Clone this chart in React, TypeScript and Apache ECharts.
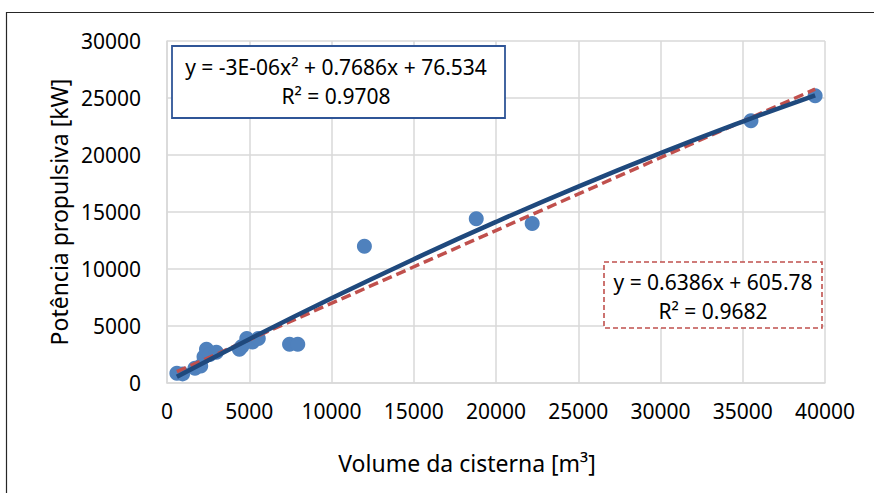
import React, { useEffect, useRef } from "react";
import * as echarts from "echarts";

// Observed points (volume m³, propulsive power kW)
const volume = [600, 950, 1700, 2050, 2250, 2400, 2600, 3000, 4400, 4550, 4850, 5200, 5550, 7450, 7950, 12000, 18800, 22200, 35500, 39400];
const power = [850, 800, 1300, 1500, 2300, 2950, 2500, 2700, 2950, 3200, 3900, 3600, 3900, 3400, 3400, 12000, 14400, 14000, 23000, 25200];

// Polynomial trendline
const polyX = [600, 5000, 10000, 15000, 20000, 25000, 30000, 35000, 39400];
const polyY = [540, 3840, 7430, 10860, 14130, 17230, 20160, 22930, 25240];

// Linear trendline end points
const linX = [600, 39400];
const linY = [990, 25770];

const xTicks = [0, 5000, 10000, 15000, 20000, 25000, 30000, 35000, 40000];
const yTicks = [0, 5000, 10000, 15000, 20000, 25000, 30000];

const polyText = ["y = -3E-06x² + 0.7686x + 76.534", "R² = 0.9708"];
const linText = ["y = 0.6386x + 605.78", "R² = 0.9682"];

const FONT = "'Noto Sans', 'Open Sans', sans-serif";

export default function App() {
  const ref = useRef<HTMLDivElement>(null);
  useEffect(() => {
    if (!ref.current) return;
    const chart = echarts.init(ref.current, null, { renderer: "svg" });
    const zip = (a: number[], b: number[]) => a.map((v, i) => [v, b[i]]);
    const txt = (x: number, y: number, t: string) => ({
      type: "text",
      x,
      y,
      style: { text: t, fontFamily: FONT, fontSize: 21, fill: "#000", align: "center", verticalAlign: "middle" },
      z: 101,
    });
    chart.setOption({
      animation: false,
      backgroundColor: "#ffffff",
      grid: { left: 167, right: 49, top: 41, bottom: 110 },
      xAxis: {
        type: "value",
        min: xTicks[0],
        max: xTicks[xTicks.length - 1],
        interval: 5000,
        name: "Volume da cisterna [m³]",
        nameLocation: "middle",
        nameGap: 68,
        nameTextStyle: { fontFamily: FONT, fontSize: 23, color: "#000", padding: [0, 58, 0, 0] },
        axisLine: { show: true, lineStyle: { color: "#d9d9d9", width: 1.5 } },
        axisTick: { show: false },
        axisLabel: { fontFamily: FONT, fontSize: 21, color: "#000", margin: 17, formatter: (v: number) => String(v) },
        splitLine: { show: true, lineStyle: { color: "#d9d9d9", width: 1.5 } },
      },
      yAxis: {
        type: "value",
        min: yTicks[0],
        max: yTicks[yTicks.length - 1],
        interval: 5000,
        name: "Potência propulsiva [kW]",
        nameLocation: "middle",
        nameGap: 94,
        nameTextStyle: { fontFamily: FONT, fontSize: 23, color: "#000" },
        axisLine: { show: true, lineStyle: { color: "#d9d9d9", width: 1.5 } },
        axisTick: { show: false },
        axisLabel: { fontFamily: FONT, fontSize: 21, color: "#000", margin: 26, formatter: (v: number) => String(v) },
        splitLine: { show: true, lineStyle: { color: "#d9d9d9", width: 1.5 } },
      },
      series: [
        {
          type: "scatter",
          data: zip(volume, power),
          symbolSize: 15,
          itemStyle: { color: "#4F81BD", opacity: 1 },
          z: 2,
        },
        {
          type: "line",
          data: zip(polyX, polyY),
          smooth: true,
          showSymbol: false,
          lineStyle: { color: "#1F497D", width: 4.5 },
          z: 4,
        },
        {
          type: "line",
          data: zip(linX, linY),
          showSymbol: false,
          lineStyle: { color: "#C0504D", width: 3.5, type: [10, 5] },
          z: 3,
        },
      ],
      graphic: [
        {
          type: "rect",
          shape: { x: 6.5, y: 12.5, width: 900, height: 520 },
          style: { fill: "none", stroke: "#262626", lineWidth: 1.2 },
          silent: true,
        },
        {
          type: "rect",
          shape: { x: 172, y: 46, width: 333, height: 72 },
          style: { fill: "#ffffff", stroke: "#2F5597", lineWidth: 1.8 },
          z: 100,
        },
        txt(336, 67, polyText[0]),
        txt(336, 96, polyText[1]),
        {
          type: "rect",
          shape: { x: 604, y: 262, width: 218, height: 66 },
          style: { fill: "#ffffff", stroke: "#C0504D", lineWidth: 1.6, lineDash: [5, 3] },
          z: 100,
        },
        txt(713, 282, linText[0]),
        txt(713, 311, linText[1]),
      ],
    });
    return () => chart.dispose();
  }, []);
  return (
    <div
      ref={ref}
      style={{ position: "fixed", left: 0, top: 0, width: 874, height: 493 }}
    />
  );
}
